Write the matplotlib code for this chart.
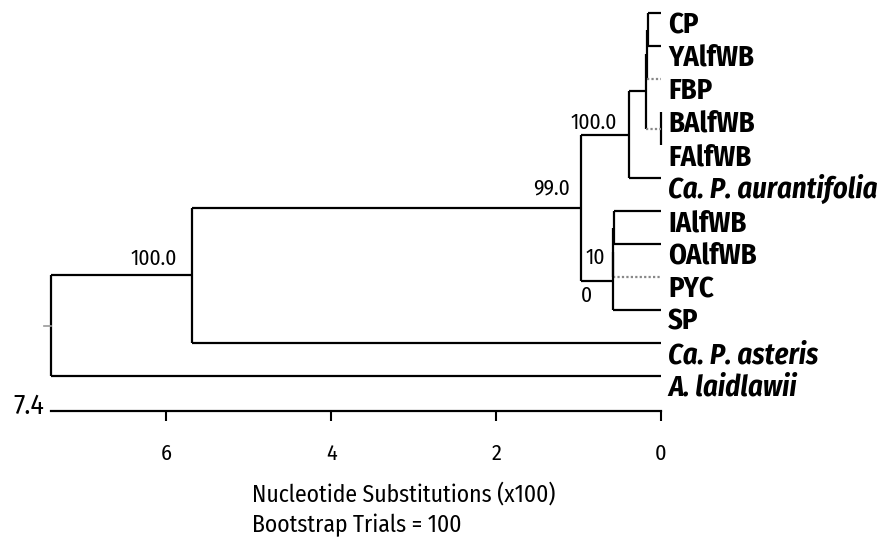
import matplotlib
matplotlib.use("Agg")
import matplotlib.pyplot as plt
from matplotlib import font_manager

# leaves, top to bottom
leaf_names = ["CP", "YAlfWB", "FBP", "BAlfWB", "FAlfWB", "Ca. P. aurantifolia",
              "IAlfWB", "OAlfWB", "PYC", "SP", "Ca. P. asteris", "A. laidlawii"]
italic_leaves = ["Ca. P. aurantifolia", "Ca. P. asteris", "A. laidlawii"]

# internal nodes (UPGMA tree), heights in nucleotide substitutions (x100)
node_ids = ["cp_ya", "cp_fbp", "ba_fa", "bc5", "aur",
            "ia_oa", "ia_pyc", "ia_sp", "grp", "ast", "root"]
node_children = [["CP", "YAlfWB"], ["cp_ya", "FBP"], ["BAlfWB", "FAlfWB"],
                 ["cp_fbp", "ba_fa"], ["bc5", "Ca. P. aurantifolia"],
                 ["IAlfWB", "OAlfWB"], ["ia_oa", "PYC"], ["ia_pyc", "SP"],
                 ["aur", "ia_sp"], ["grp", "Ca. P. asteris"], ["ast", "A. laidlawii"]]
node_heights = [0.16, 0.17, 0.0, 0.18, 0.39, 0.57, 0.58, 0.58, 0.97, 5.69, 7.4]

# branches drawn dotted
dotted_branches = ["FBP", "ba_fa", "PYC"]

# bootstrap values shown at nodes
boot_nodes = ["aur", "grp", "ast"]
boot_labels = ["100.0", "99.0", "100.0"]
boot_split_node = "ia_sp"
boot_split_labels = ["10", "0"]

x_ticks = [6, 4, 2, 0]
scale_max = 7.4
root_stub = 0.09

# pick a narrow font if there is one
names = {f.name for f in font_manager.fontManager.ttflist}
narrow, fs = "DejaVu Sans", 0.75
for cand in ["Fira Sans Condensed", "IBM Plex Sans Condensed", "Barlow Condensed", "Asap Condensed"]:
    if cand in names:
        narrow, fs = cand, 1.0
        break
plt.rcParams['font.family'] = [narrow, 'DejaVu Sans']

# coordinates of every node
ypos = {n: i for i, n in enumerate(leaf_names)}
xpos = {n: 0.0 for n in leaf_names}
for nid, kids, h in zip(node_ids, node_children, node_heights):
    ypos[nid] = sum(ypos[k] for k in kids) / len(kids)
    xpos[nid] = h

fig = plt.figure(figsize=(8.91, 5.41), dpi=100)
ax = fig.add_axes([51 / 891, 0, 610 / 891, 1])
ax.set_xlim(scale_max, 0)
ax.set_ylim((541 - 13) / 33, -13 / 33)

lw = 1.6
for nid, kids in zip(node_ids, node_children):
    ys = [ypos[k] for k in kids]
    ax.plot([xpos[nid], xpos[nid]], [min(ys), max(ys)], color='black', lw=lw,
            solid_capstyle='butt', clip_on=False)
    for k in kids:
        if k in dotted_branches:
            ax.plot([xpos[nid], xpos[k]], [ypos[k], ypos[k]], color='#888888', lw=lw,
                    linestyle=(0, (1, 1)), clip_on=False)
        else:
            ax.plot([xpos[nid], xpos[k]], [ypos[k], ypos[k]], color='black', lw=lw,
                    solid_capstyle='butt', clip_on=False)

# root stub
ax.plot([scale_max, scale_max + root_stub], [ypos["root"], ypos["root"]],
        color='#999999', lw=1.2, clip_on=False)

# leaf labels
for name in leaf_names:
    ax.annotate(name, (0, ypos[name]), xytext=(7, -20), textcoords='offset pixels',
                ha='left', va='baseline', fontsize=20.5 * fs, fontweight='bold',
                fontstyle='italic' if name in italic_leaves else 'normal')

# bootstrap values
offsets = {"aur": (-12, 1), "grp": (-11, 9), "ast": (-15, 6)}
for nid, lab in zip(boot_nodes, boot_labels):
    ax.annotate(lab, (xpos[nid], ypos[nid]), xytext=offsets[nid], textcoords='offset pixels',
                ha='right', va='bottom', fontsize=15.5 * fs)
ax.annotate(boot_split_labels[0], (xpos[boot_split_node], ypos[boot_split_node]),
            xytext=(-8, 13), textcoords='offset pixels', ha='right', va='bottom', fontsize=15.5 * fs)
ax.annotate(boot_split_labels[1], (xpos[boot_split_node], ypos[boot_split_node]),
            xytext=(-21, -4), textcoords='offset pixels', ha='right', va='top', fontsize=15.5 * fs)

# scale axis
axis_y = (411 - 13) / 33
for s in ['top', 'left', 'right']:
    ax.spines[s].set_visible(False)
ax.spines['bottom'].set_position(('data', axis_y))
ax.spines['bottom'].set_bounds(0, scale_max)
ax.spines['bottom'].set_linewidth(1.6)
ax.set_yticks([])
ax.set_xticks(x_ticks)
ax.set_xticklabels([str(t) for t in x_ticks])
ax.tick_params(axis='x', direction='out', length=7, width=1.5, pad=16, labelsize=16 * fs)
ax.patch.set_visible(False)

ax.annotate(str(scale_max), (scale_max, axis_y), xytext=(-7, 5), textcoords='offset pixels',
            ha='right', va='center', fontsize=20 * fs)

fig.text(252 / 891, 1 - 494 / 541, "Nucleotide Substitutions (x100)",
         ha='left', va='center', fontsize=17 * fs)
fig.text(252 / 891, 1 - 525 / 541, "Bootstrap Trials = 100",
         ha='left', va='center', fontsize=17 * fs)

fig.savefig('out.png', dpi=100)
